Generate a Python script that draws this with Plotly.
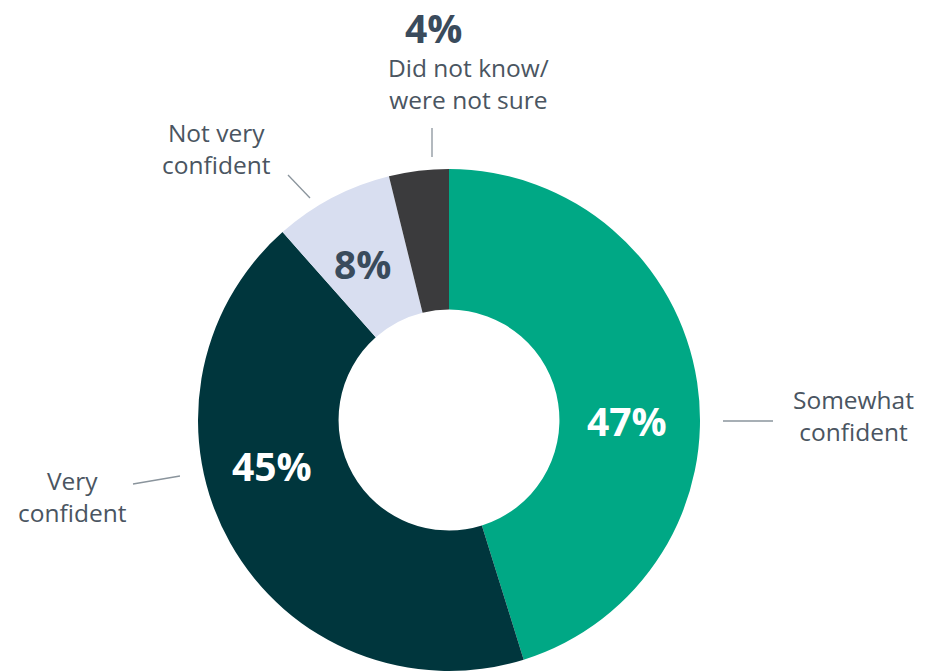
import plotly.graph_objects as go

categories = ["Somewhat confident", "Very confident", "Not very confident", "Did not know/were not sure"]
values = [47, 45, 8, 4]
colors = ["#00A885", "#00363D", "#D8DEF0", "#3B3B3D"]
label_lines = [["Somewhat", "confident"], ["Very", "confident"], ["Not very", "confident"], ["Did not know/", "were not sure"]]

W, H = 927, 672

def px(x, y):
    return x / W, 1 - y / H

fig = go.Figure()
fig.add_trace(go.Pie(
    labels=categories,
    values=values,
    marker=dict(colors=colors, line=dict(width=0)),
    hole=0.44,
    sort=False,
    direction="clockwise",
    rotation=0,
    textinfo="none",
    hoverinfo="label+value",
    showlegend=False,
    domain=dict(x=[198 / W, 700 / W], y=[1 - 671 / H, 1 - 169 / H]),
))

pct_font = dict(family="Open Sans, Inter, sans-serif", size=39)
lab_font = dict(family="Open Sans, Lato, sans-serif", size=24.5, color="#4A5561")

# percent labels (positions near slice centres)
pct_pos = [(627, 420, "white"), (272, 465, "white"), (362, 264, "#3A4B5C"), (433, 28, "#3A4B5C")]
for v, (x, y, c) in zip(values, pct_pos):
    ax, ay = px(x, y)
    fig.add_annotation(x=ax, y=ay, xref="paper", yref="paper", showarrow=False,
                       text=f"<b>{v}%</b>", font=dict(pct_font, color=c),
                       xanchor="center", yanchor="middle")

# category labels
lab_pos = [(853, 415), (72, 496), (216, 148), (468, 83)]
for lines, (x, y) in zip(label_lines, lab_pos):
    ax, ay = px(x, y)
    fig.add_annotation(x=ax, y=ay, xref="paper", yref="paper", showarrow=False,
                       text="<br>".join(lines), font=lab_font, align="center",
                       xanchor="center", yanchor="middle")

# leader lines
leaders = [((723, 421), (773, 421)), ((133, 484), (180, 476)),
           ((288, 175), (310, 198)), ((432, 128), (432, 157))]
for (x0, y0), (x1, y1) in leaders:
    a0, b0 = px(x0, y0)
    a1, b1 = px(x1, y1)
    fig.add_shape(type="line", xref="paper", yref="paper", x0=a0, y0=b0, x1=a1, y1=b1,
                  line=dict(color="#8A949C", width=1.3))

fig.update_layout(
    width=W, height=H,
    margin=dict(l=0, r=0, t=0, b=0),
    paper_bgcolor="white", plot_bgcolor="white",
)

fig.write_html("out.html")
